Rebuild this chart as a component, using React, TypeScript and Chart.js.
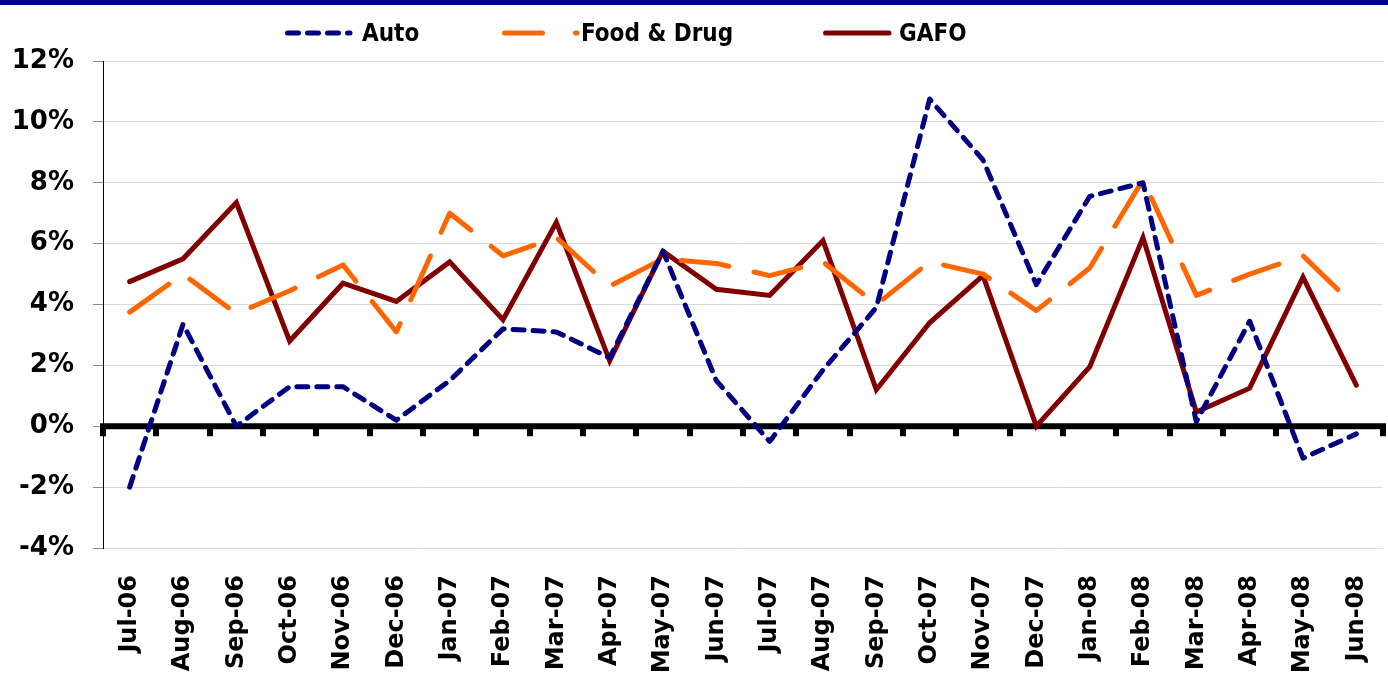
import React, { useEffect, useRef } from 'react';
import { Chart, registerables } from 'chart.js';

Chart.register(...registerables);

const categories = [
  'Jul-06', 'Aug-06', 'Sep-06', 'Oct-06', 'Nov-06', 'Dec-06',
  'Jan-07', 'Feb-07', 'Mar-07', 'Apr-07', 'May-07', 'Jun-07',
  'Jul-07', 'Aug-07', 'Sep-07', 'Oct-07', 'Nov-07', 'Dec-07',
  'Jan-08', 'Feb-08', 'Mar-08', 'Apr-08', 'May-08', 'Jun-08',
];

const autoValues = [
  -2.0, 3.35, 0.0, 1.3, 1.3, 0.2, 1.5, 3.2, 3.1, 2.25, 5.75, 1.5,
  -0.5, 1.85, 3.9, 10.75, 8.75, 4.65, 7.55, 8.0, 0.15, 3.45, -1.05, -0.25,
];

const foodDrugValues = [
  3.75, 5.0, 3.7, 4.45, 5.3, 3.1, 7.0, 5.6, 6.2, 4.6, 5.5, 5.35,
  4.95, 5.4, 4.0, 5.4, 5.0, 3.8, 5.2, 8.1, 4.3, 5.0, 5.6, 3.9,
];

const gafoValues = [
  4.75, 5.5, 7.35, 2.8, 4.7, 4.1, 5.4, 3.5, 6.7, 2.15, 5.75, 4.5,
  4.3, 6.1, 1.2, 3.4, 4.95, 0.0, 1.95, 6.2, 0.47, 1.25, 4.9, 1.35,
];

const seriesNames = ['Auto', 'Food & Drug', 'GAFO'];
const seriesColors = ['#000080', '#FF6600', '#800000'];

const yMin = -4;
const yMax = 12;
const yStep = 2;

const zeroLinePlugin = {
  id: 'zeroLine',
  beforeDraw(chart: any) {
    const { ctx, width } = chart;
    ctx.save();
    ctx.fillStyle = '#000080';
    ctx.fillRect(0, 0, width, 5);
    ctx.restore();
  },
  beforeDatasetsDraw(chart: any) {
    const { ctx, scales, chartArea } = chart;
    const y = scales.y.getPixelForValue(0);
    const x = scales.x;
    const n = categories.length;
    const half = (x.getPixelForValue(1) - x.getPixelForValue(0)) / 2;
    ctx.save();
    ctx.fillStyle = '#000000';
    ctx.fillRect(chartArea.left - 3, y - 3, chartArea.right - chartArea.left + 6, 6);
    for (let i = 0; i <= n; i++) {
      const px = x.getPixelForValue(i) - half;
      ctx.fillRect(Math.round(px) - 3, y + 2, 6, 8);
    }
    ctx.restore();
  },
};

function LegendSample({ kind, color }: { kind: number; color: string }) {
  if (kind === 0) {
    return (
      <svg width="72" height="12" style={{ display: 'block' }}>
        <line x1="3.5" y1="6" x2="66" y2="6" stroke={color} strokeWidth="5" strokeLinecap="round" strokeDasharray="11 9" />
      </svg>
    );
  }
  if (kind === 1) {
    return (
      <svg width="80" height="12" style={{ display: 'block' }}>
        <line x1="2.5" y1="6" x2="75" y2="6" stroke={color} strokeWidth="5" strokeLinecap="round" strokeDasharray="38 33" />
      </svg>
    );
  }
  return (
    <svg width="72" height="12" style={{ display: 'block' }}>
      <line x1="2.5" y1="6" x2="66" y2="6" stroke={color} strokeWidth="5" strokeLinecap="round" />
    </svg>
  );
}

const legendSampleLeft = [284, 502, 823];
const legendTextLeft = [362, 581, 899];

export default function App() {
  const canvasRef = useRef<HTMLCanvasElement | null>(null);

  useEffect(() => {
    const canvas = canvasRef.current;
    if (!canvas) return;
    const chart = new Chart(canvas, {
      type: 'line',
      data: {
        labels: categories,
        datasets: [
          {
            label: seriesNames[0],
            data: autoValues,
            borderColor: seriesColors[0],
            borderWidth: 5,
            borderDash: [11, 9],
            borderCapStyle: 'round',
            borderJoinStyle: 'round',
            pointRadius: 0,
            tension: 0,
            fill: false,
          },
          {
            label: seriesNames[1],
            data: foodDrugValues,
            borderColor: seriesColors[1],
            borderWidth: 5,
            borderDash: [48, 26],
            borderCapStyle: 'round',
            borderJoinStyle: 'round',
            pointRadius: 0,
            tension: 0,
            fill: false,
          },
          {
            label: seriesNames[2],
            data: gafoValues,
            borderColor: seriesColors[2],
            borderWidth: 5,
            borderCapStyle: 'round',
            borderJoinStyle: 'miter',
            pointRadius: 0,
            tension: 0,
            fill: false,
          },
        ],
      },
      options: {
        responsive: false,
        animation: false,
        devicePixelRatio: 1,
        layout: { padding: { top: 61, right: 5, left: 0, bottom: 0 } },
        plugins: {
          legend: { display: false },
          tooltip: { enabled: false },
        },
        scales: {
          x: {
            type: 'category',
            offset: true,
            grid: { display: false, drawTicks: false },
            border: { display: false },
            ticks: {
              autoSkip: false,
              minRotation: 90,
              maxRotation: 90,
              padding: 27,
              color: '#000000',
              font: { family: '"DejaVu Sans", Verdana, sans-serif', weight: 'bold', size: 24 },
            },
            afterFit(scale: any) {
              scale.height = 133;
              scale.paddingLeft = 0;
              scale.paddingRight = 0;
            },
          },
          y: {
            min: yMin,
            max: yMax,
            grid: {
              color: '#d9d9d9',
              lineWidth: 1,
              tickLength: 10,
              tickColor: '#8c8c8c',
            },
            border: { display: true, color: '#000000', width: 1 },
            ticks: {
              stepSize: yStep,
              padding: 19,
              color: '#000000',
              font: { family: '"DejaVu Sans", Verdana, sans-serif', weight: 'bold', size: 26 },
              callback: (v: any) => `${v}%`,
            },
            afterFit(scale: any) {
              scale.width = 103;
            },
          },
        },
      },
      plugins: [zeroLinePlugin],
    });
    return () => chart.destroy();
  }, []);

  return (
    <div style={{ position: 'absolute', left: 0, top: 0, width: 1388, height: 681, background: '#ffffff' }}>
      <canvas ref={canvasRef} width={1388} height={681} style={{ display: 'block', width: 1388, height: 681 }} />
      {seriesNames.map((name, i) => (
        <React.Fragment key={name}>
          <div style={{ position: 'absolute', left: legendSampleLeft[i], top: 27 }}>
            <LegendSample kind={i} color={seriesColors[i]} />
          </div>
          <div
            style={{
              position: 'absolute',
              left: legendTextLeft[i],
              top: 17,
              height: 32,
              lineHeight: '32px',
              fontFamily: '"DejaVu Sans Condensed", "DejaVu Sans", sans-serif',
              fontWeight: 'bold',
              fontStretch: 'condensed',
              fontSize: 24,
              color: '#000000',
              whiteSpace: 'nowrap',
            }}
          >
            {name}
          </div>
        </React.Fragment>
      ))}
    </div>
  );
}
